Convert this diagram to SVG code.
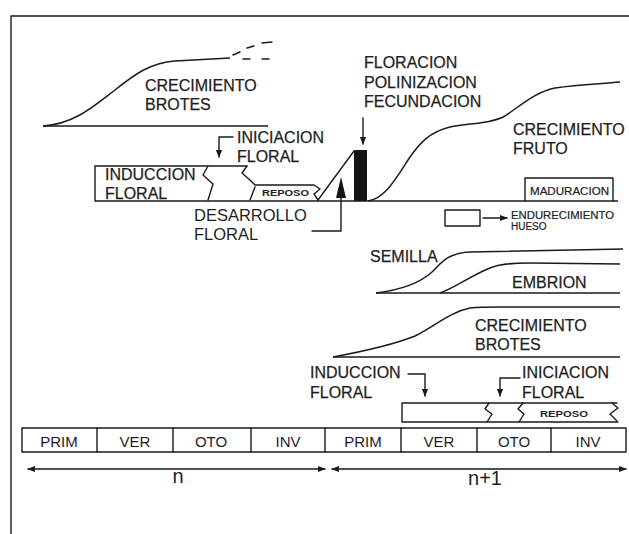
<svg xmlns="http://www.w3.org/2000/svg" width="629" height="534" viewBox="0 0 629 534">
<defs>
<style>
.ln{fill:none;stroke:#1a1a1a;stroke-width:1.4;stroke-linejoin:round;stroke-linecap:round}
.cv{fill:none;stroke:#1a1a1a;stroke-width:1.5}
.t{font-family:"Liberation Sans",Arial,sans-serif;font-size:16px;fill:#1e1e1e;stroke:#1e1e1e;stroke-width:0.25}
.s{font-family:"Liberation Sans",Arial,sans-serif;font-size:9px;font-weight:bold;fill:#1e1e1e}
.ss{font-family:"Liberation Sans",Arial,sans-serif;font-size:10px;fill:#1e1e1e;stroke:#1e1e1e;stroke-width:0.2}
.se{font-family:"Liberation Sans",Arial,sans-serif;font-size:15px;fill:#1e1e1e;text-anchor:middle}
</style>
<marker id="ah" viewBox="0 0 10 10" refX="9" refY="5" markerWidth="8" markerHeight="8" markerUnits="userSpaceOnUse" orient="auto">
<path d="M0,1 L10,5 L0,9 Z" fill="#1a1a1a"/>
</marker>
<marker id="ahs" viewBox="0 0 10 10" refX="1" refY="5" markerWidth="8" markerHeight="8" markerUnits="userSpaceOnUse" orient="auto">
<path d="M10,1 L0,5 L10,9 Z" fill="#1a1a1a"/>
</marker>
</defs>
<rect width="629" height="534" fill="#fff"/>
<g id="frame"><path class="ln" d="M11,534 L11,16 L629,16"/></g>

<g id="brotes1">
<path class="cv" d="M43,126 L268,126"/>
<path class="cv" d="M43,126 C75,124 95,105 115,90 C135,74 150,63 175,61 L230,58"/>
<path class="ln" d="M233,55 L240,52 M247,48 L254,46 M262,43 L272,42 M243,59 L250,59 M262,59 L269,59"/>
<text class="t" x="145" y="91">CRECIMIENTO</text>
<text class="t" x="145" y="110">BROTES</text>
</g>

<g id="iniciacion1">
<text class="t" x="237" y="143">INICIACION</text>
<text class="t" x="237" y="162">FLORAL</text>
</g>

<g id="induccion1">
<path class="ln" d="M95,201 L95,166 L247,166"/>
<path class="ln" d="M208,166 L203,175 L213,184 L208,200"/>
<path class="ln" d="M247,166 L242,173 L251,181 L255,185 L314,185 L320,189 L314,194 L318,200"/>
<path class="ln" d="M255,187 L250,200"/>
<text class="t" x="105" y="180">INDUCCION</text>
<text class="t" x="105" y="199">FLORAL</text>
<text class="s" x="262" y="196" textLength="47" lengthAdjust="spacingAndGlyphs">REPOSO</text>
</g>

<g id="floracion">
<path class="ln" d="M318,200 L354,151"/>
<rect x="354" y="150" width="13" height="51" fill="#141414"/>
<text class="t" x="364" y="68">FLORACION</text>
<text class="t" x="364" y="88">POLINIZACION</text>
<text class="t" x="364" y="107">FECUNDACION</text>
</g>

<g id="desarrollo">
<polygon points="341,177 336,198 346,198" fill="#141414"/>
<text class="t" x="194" y="221" style="font-size:16.5px;stroke-width:0">DESARROLLO</text>
<text class="t" x="194" y="240" style="font-size:16.5px;stroke-width:0">FLORAL</text>
</g>

<g id="baseline1"><path class="cv" d="M95,201 L618,201"/></g>

<g id="fruto">
<path class="cv" d="M368,201 C385,198 395,180 408,160 C420,142 430,132 450,127 C470,123 490,124 505,116 C520,106 535,92 555,88 C580,84 600,84 620,82"/>
<text class="t" x="513" y="135">CRECIMIENTO</text>
<text class="t" x="513" y="154">FRUTO</text>
</g>

<g id="maduracion">
<path class="ln" d="M525,201 L525,178 L613,178 L613,201"/>
<text class="ss" x="530" y="195" textLength="79" lengthAdjust="spacingAndGlyphs">MADURACION</text>
</g>

<g id="endurecimiento">
<rect class="ln" x="445" y="210" width="35" height="16"/>
<text class="ss" x="511" y="219" textLength="103" lengthAdjust="spacingAndGlyphs">ENDURECIMIENTO</text>
<text class="ss" x="511" y="230">HUESO</text>
</g>

<g id="semilla">
<path class="cv" d="M376,293 L620,293"/>
<path class="cv" d="M376,293 C400,290 420,283 432,272 C442,262 448,253 470,252 L623,249"/>
<path class="cv" d="M440,293 C455,288 470,276 490,268 C500,264 510,263 530,263 L620,264"/>
<text class="t" x="370" y="262">SEMILLA</text>
<text class="t" x="512" y="288">EMBRION</text>
</g>

<g id="brotes2">
<path class="cv" d="M333,357 L620,357"/>
<path class="cv" d="M333,357 C360,352 390,346 415,336 C435,326 450,312 470,308 C480,307 490,307 500,307 L620,307"/>
<text class="t" x="475" y="331">CRECIMIENTO</text>
<text class="t" x="475" y="350">BROTES</text>
</g>

<g id="induccion2">
<text class="t" x="310" y="378">INDUCCION</text>
<text class="t" x="310" y="398">FLORAL</text>
</g>
<g id="iniciacion2">
<text class="t" x="522" y="378">INICIACION</text>
<text class="t" x="522" y="398">FLORAL</text>
</g>

<g id="reposo2">
<path class="ln" d="M617,403 L402,403 L402,422 L618,422"/>
<path class="ln" d="M489,403 L485,409 L492,414 L487,422"/>
<path class="ln" d="M523,403 L518,409 L524,414 L519,422"/>
<path class="ln" d="M612,403 L618,408 L610,414 L617,421"/>
<text class="s" x="540" y="417" textLength="48" lengthAdjust="spacingAndGlyphs">REPOSO</text>
</g>

<g id="seasons">
<rect class="ln" x="22" y="428" width="604" height="24"/>
<path class="ln" d="M97,428 L97,452 M173,428 L173,452 M251,428 L251,452 M325,428 L325,452 M401,428 L401,452 M477,428 L477,452 M551,428 L551,452"/>
<text class="se" x="59" y="447">PRIM</text>
<text class="se" x="135" y="447">VER</text>
<text class="se" x="211" y="447">OTO</text>
<text class="se" x="288" y="447">INV</text>
<text class="se" x="363" y="447">PRIM</text>
<text class="se" x="439" y="447">VER</text>
<text class="se" x="514" y="447">OTO</text>
<text class="se" x="588" y="447">INV</text>
</g>

<g id="years">
<text class="se" x="178" y="483" style="font-size:20px">n</text>
<text class="se" x="485" y="485" style="font-size:20px">n+1</text>
</g>

<g id="connectors">
<path class="ln" d="M363,118 L363,144" marker-end="url(#ah)"/>
<path class="ln" d="M233,137 L219,137 L219,157" marker-end="url(#ah)"/>
<path class="ln" d="M312,231 L341,231 L341,197"/>
<path class="ln" d="M483,218 L507,218" marker-end="url(#ah)"/>
<path class="ln" d="M408,374 L425,374 L425,396" marker-end="url(#ah)"/>
<path class="ln" d="M520,378 L500,378 L500,396" marker-end="url(#ah)"/>
<path class="ln" d="M28,469 L325,469" marker-start="url(#ahs)" marker-end="url(#ah)"/>
<path class="ln" d="M332,469 L626,469" marker-start="url(#ahs)" marker-end="url(#ah)"/>
</g>
</svg>
